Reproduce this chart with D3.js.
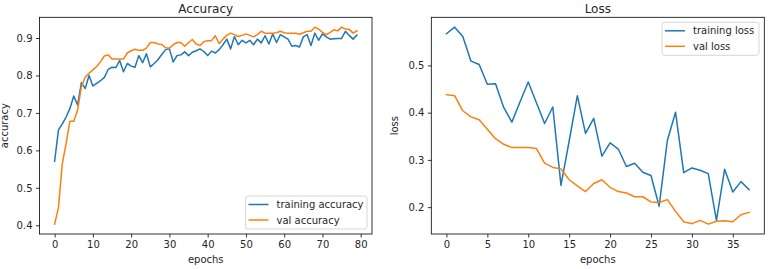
<!DOCTYPE html>
<html>
<head>
<meta charset="utf-8">
<script src="https://cdn.jsdelivr.net/npm/d3@7"></script>
<style>
  html, body { margin: 0; padding: 0; background: #fff; }
  svg { display: block; font-family: "DejaVu Sans", sans-serif; }
</style>
</head>
<body>
<svg id="chart" width="768" height="269"></svg>
<script>
// ---------- data ----------
const accTrain = [0.571,0.654,0.671,0.689,0.712,0.745,0.721,0.781,0.765,0.800,
  0.772,0.779,0.786,0.795,0.816,0.822,0.821,0.840,0.810,0.832,
  0.825,0.822,0.853,0.834,0.858,0.823,0.832,0.842,0.856,0.869,
  0.871,0.836,0.853,0.855,0.863,0.853,0.862,0.866,0.871,0.864,
  0.853,0.865,0.860,0.869,0.882,0.897,0.871,0.904,0.882,0.894,
  0.887,0.894,0.882,0.897,0.887,0.906,0.884,0.911,0.888,0.909,
  0.903,0.897,0.878,0.880,0.876,0.903,0.909,0.880,0.913,0.894,
  0.911,0.903,0.897,0.898,0.899,0.899,0.918,0.907,0.897,0.908];
const accVal = [0.403,0.447,0.564,0.618,0.678,0.678,0.707,0.770,0.795,0.806,
  0.815,0.824,0.837,0.852,0.855,0.844,0.844,0.844,0.844,0.860,
  0.866,0.870,0.867,0.867,0.873,0.888,0.888,0.884,0.883,0.874,
  0.873,0.882,0.888,0.888,0.878,0.888,0.896,0.884,0.880,0.890,
  0.893,0.893,0.906,0.885,0.897,0.907,0.913,0.909,0.904,0.907,
  0.911,0.907,0.903,0.909,0.918,0.913,0.913,0.913,0.914,0.918,
  0.914,0.913,0.913,0.913,0.910,0.914,0.918,0.918,0.929,0.924,
  0.915,0.909,0.915,0.922,0.919,0.929,0.924,0.923,0.913,0.919];
const lossTrain = [0.567,0.581,0.561,0.509,0.502,0.460,0.461,0.411,0.380,0.423,
  0.465,0.421,0.377,0.412,0.246,0.340,0.436,0.356,0.388,0.308,
  0.336,0.323,0.286,0.293,0.274,0.267,0.202,0.341,0.401,0.273,
  0.283,0.278,0.271,0.172,0.280,0.232,0.254,0.237];
const lossVal = [0.438,0.436,0.404,0.391,0.385,0.365,0.345,0.333,0.326,0.326,
  0.326,0.324,0.293,0.284,0.281,0.258,0.245,0.233,0.250,0.258,
  0.242,0.233,0.230,0.222,0.222,0.211,0.210,0.216,0.191,0.169,
  0.165,0.172,0.164,0.170,0.171,0.169,0.184,0.189];

const accTicksY = [0.4,0.5,0.6,0.7,0.8,0.9];
const accTicksX = [0,10,20,30,40,50,60,70,80];
const lossTicksY = [0.2,0.3,0.4,0.5];
const lossTicksX = [0,5,10,15,20,25,30,35];

const BLUE = "#1f77b4", ORANGE = "#ff7f0e", TEXT = "#262626";

const svg = d3.select("#chart");

function padExtent(arrs) {
  const lo = d3.min(arrs, a => d3.min(a)), hi = d3.max(arrs, a => d3.max(a));
  const m = (hi - lo) * 0.05;
  return [lo - m, hi + m];
}

function panel(opt) {
  const g = svg.append("g");
  const n = d3.max(opt.series, s => s.values.length) - 1;
  const x = d3.scaleLinear().domain([-n * 0.05, n * 1.05]).range([opt.x0, opt.x1]);
  const y = d3.scaleLinear().domain(padExtent(opt.series.map(s => s.values))).range([opt.y1, opt.y0]);

  const line = d3.line().x((d, i) => x(i)).y(d => y(d));
  opt.series.forEach(s => {
    g.append("path").datum(s.values)
      .attr("fill", "none").attr("stroke", s.color).attr("stroke-width", 1.5)
      .attr("stroke-linejoin", "round").attr("stroke-linecap", "square")
      .attr("d", line);
  });

  // axes
  const ax = g.append("g").attr("transform", `translate(0,${opt.y1})`)
    .call(d3.axisBottom(x).tickValues(opt.ticksX).tickFormat(d3.format("d"))
      .tickSize(3.5).tickSizeOuter(0).tickPadding(3.5));
  const ay = g.append("g").attr("transform", `translate(${opt.x0},0)`)
    .call(d3.axisLeft(y).tickValues(opt.ticksY).tickFormat(d3.format(".1f"))
      .tickSize(3.5).tickSizeOuter(0).tickPadding(3.5));
  [ax, ay].forEach(a => {
    a.select(".domain").remove();
    a.selectAll("line").attr("stroke", "#000").attr("stroke-width", 0.8);
    a.selectAll("text").attr("fill", TEXT).style("font-size", "10px")
      .style("font-family", "'DejaVu Sans', sans-serif");
  });

  // frame
  g.append("rect").attr("x", opt.x0).attr("y", opt.y0)
    .attr("width", opt.x1 - opt.x0).attr("height", opt.y1 - opt.y0)
    .attr("fill", "none").attr("stroke", "#000").attr("stroke-width", 0.8);

  // title & labels
  const cx = (opt.x0 + opt.x1) / 2;
  g.append("text").attr("x", cx).attr("y", 13).attr("text-anchor", "middle")
    .attr("fill", TEXT).style("font-size", "12px").text(opt.title);
  g.append("text").attr("x", cx).attr("y", 262.5).attr("text-anchor", "middle")
    .attr("fill", TEXT).style("font-size", "10px").text("epochs");
  g.append("text").attr("transform", `translate(${opt.ylabX},${(opt.y0 + opt.y1) / 2}) rotate(-90)`)
    .attr("text-anchor", "middle").attr("fill", TEXT).style("font-size", "10px").text(opt.ylabel);

  // legend
  const L = opt.legend;
  g.append("rect").attr("x", L.x).attr("y", L.y).attr("width", L.w).attr("height", 33)
    .attr("rx", 2.5).attr("fill", "#fff").attr("fill-opacity", 0.8)
    .attr("stroke", "#cccccc").attr("stroke-width", 0.8);
  opt.series.forEach((s, i) => {
    const yy = L.y + 8.5 + i * 15.5;
    g.append("line").attr("x1", L.x + 3).attr("x2", L.x + 23).attr("y1", yy).attr("y2", yy)
      .attr("stroke", s.color).attr("stroke-width", 1.5);
    g.append("text").attr("x", L.x + 31).attr("y", yy).attr("dy", "0.35em")
      .attr("fill", TEXT).style("font-size", "10px").text(s.name);
  });
}

panel({
  title: "Accuracy", ylabel: "accuracy", ylabX: 8,
  x0: 39.5, x1: 372, y0: 17.3, y1: 234,
  ticksX: accTicksX, ticksY: accTicksY,
  series: [{name: "training accuracy", values: accTrain, color: BLUE},
           {name: "val accuracy", values: accVal, color: ORANGE}],
  legend: {x: 245.5, y: 196, w: 121.5}
});

panel({
  title: "Loss", ylabel: "loss", ylabX: 397.5,
  x0: 431.3, x1: 764.3, y0: 17.3, y1: 234,
  ticksX: lossTicksX, ticksY: lossTicksY,
  series: [{name: "training loss", values: lossTrain, color: BLUE},
           {name: "val loss", values: lossVal, color: ORANGE}],
  legend: {x: 662, y: 22.3, w: 97}
});
</script>
</body>
</html>
